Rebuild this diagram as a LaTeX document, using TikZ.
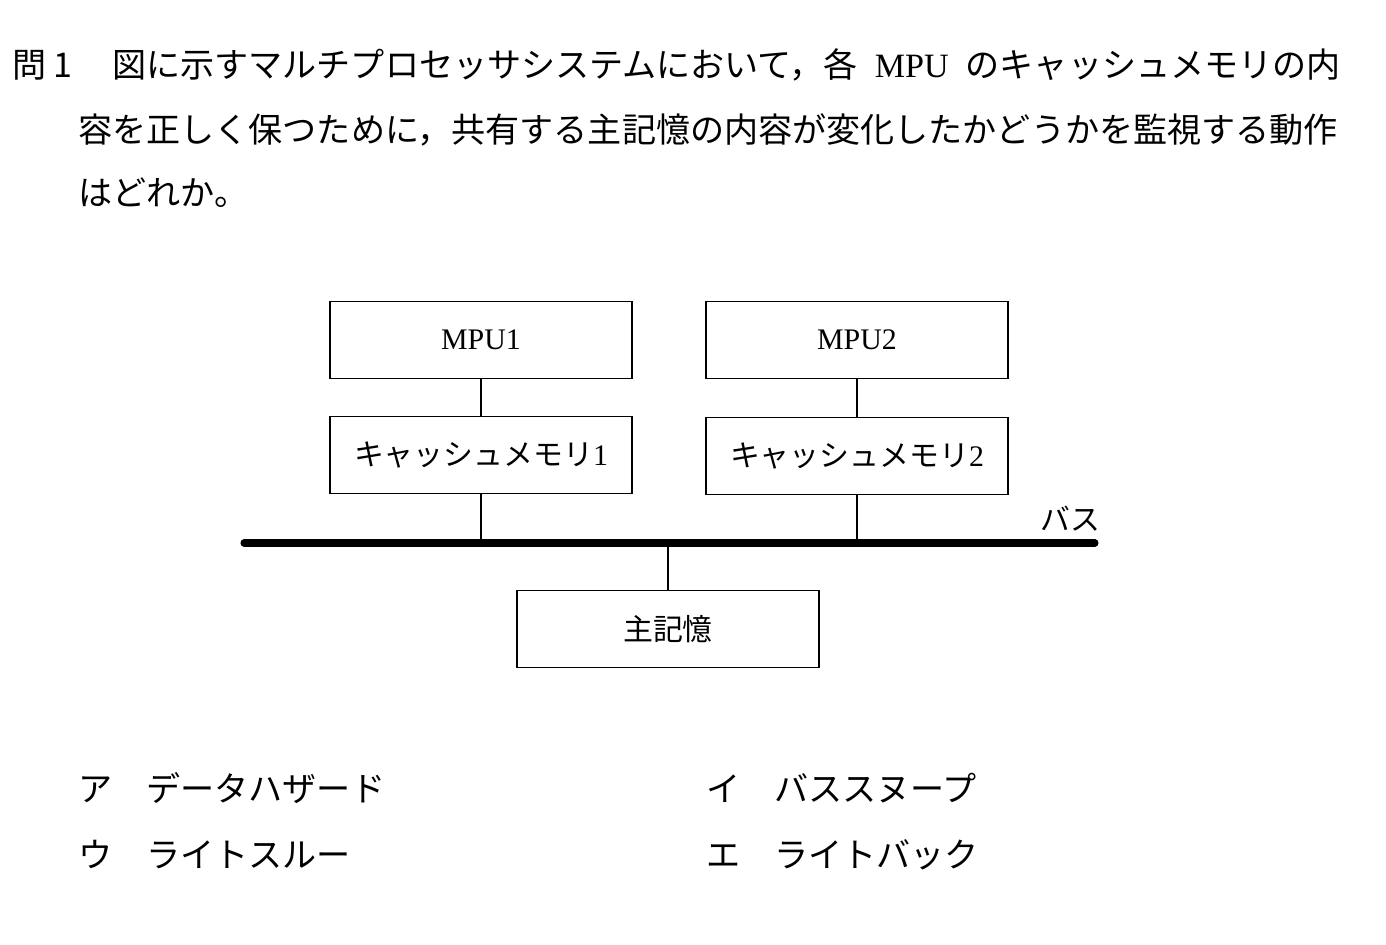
\documentclass[tikz,border=0pt]{standalone}
\usepackage{fontspec}
\setmainfont{Liberation Serif}
\newfontfamily\jp{Noto Sans CJK JP}
\newcommand{\qsize}{\fontsize{19.4pt}{24pt}\selectfont}
\newcommand{\lsize}{\fontsize{17pt}{20pt}\selectfont}
\tikzset{
  unit/.style={draw, line width=1.1pt, minimum width=6.04cm, minimum height=1.54cm,
    inner sep=0pt, font=\jp\lsize},
  wire/.style={line width=1pt},
  qtext/.style={anchor=west, inner sep=0pt, font=\jp\qsize},
}

\begin{document}
\begin{tikzpicture}[x=0.02cm, y=-0.02cm]
\useasboundingbox (0,0) rectangle (1386,944);
% question
\node[qtext] (qno) at (12,65) {問\hspace{0.2em}1};
\node[qtext] (q1) at (112,65) {図に示すマルチプロセッサシステムにおいて，各\hspace{0.5em}{\rmfamily MPU}\hspace{0.5em}のキャッシュメモリの内};
\node[qtext] (q2) at (78,130) {容を正しく保つために，共有する主記憶の内容が変化したかどうかを監視する動作};
\node[qtext] (q3) at (78,193) {はどれか。};
% units
\node[unit] (mpu1) at (481,340) {\rmfamily MPU1};
\node[unit] (mpu2) at (857,340) {\rmfamily MPU2};
\node[unit] (cache1) at (481,455) {キャッシュメモリ{\rmfamily 1}};
\node[unit] (cache2) at (857,456) {キャッシュメモリ{\rmfamily 2}};
\node[unit] (mem) at (668,629) {主記憶};
% bus
\coordinate (busL) at (244,543);
\coordinate (busR) at (1095,543);
\draw[line width=4pt, line cap=round] (busL) -- (busR);
\node[font=\jp\lsize, inner sep=0pt] (buslabel) at (1070,519) {バス};
\draw[wire] (mpu1) -- (cache1);
\draw[wire] (mpu2) -- (cache2);
\draw[wire] (cache1) -- (cache1 |- busL);
\draw[wire] (cache2) -- (cache2 |- busL);
\draw[wire] (mem) -- (mem |- busL);
% answers
\node[qtext] (ansA) at (78,788) {ア　データハザード};
\node[qtext] (ansI) at (706,788) {イ　バススヌープ};
\node[qtext] (ansU) at (78,855) {ウ　ライトスルー};
\node[qtext] (ansE) at (706,855) {エ　ライトバック};
\end{tikzpicture}
\end{document}
